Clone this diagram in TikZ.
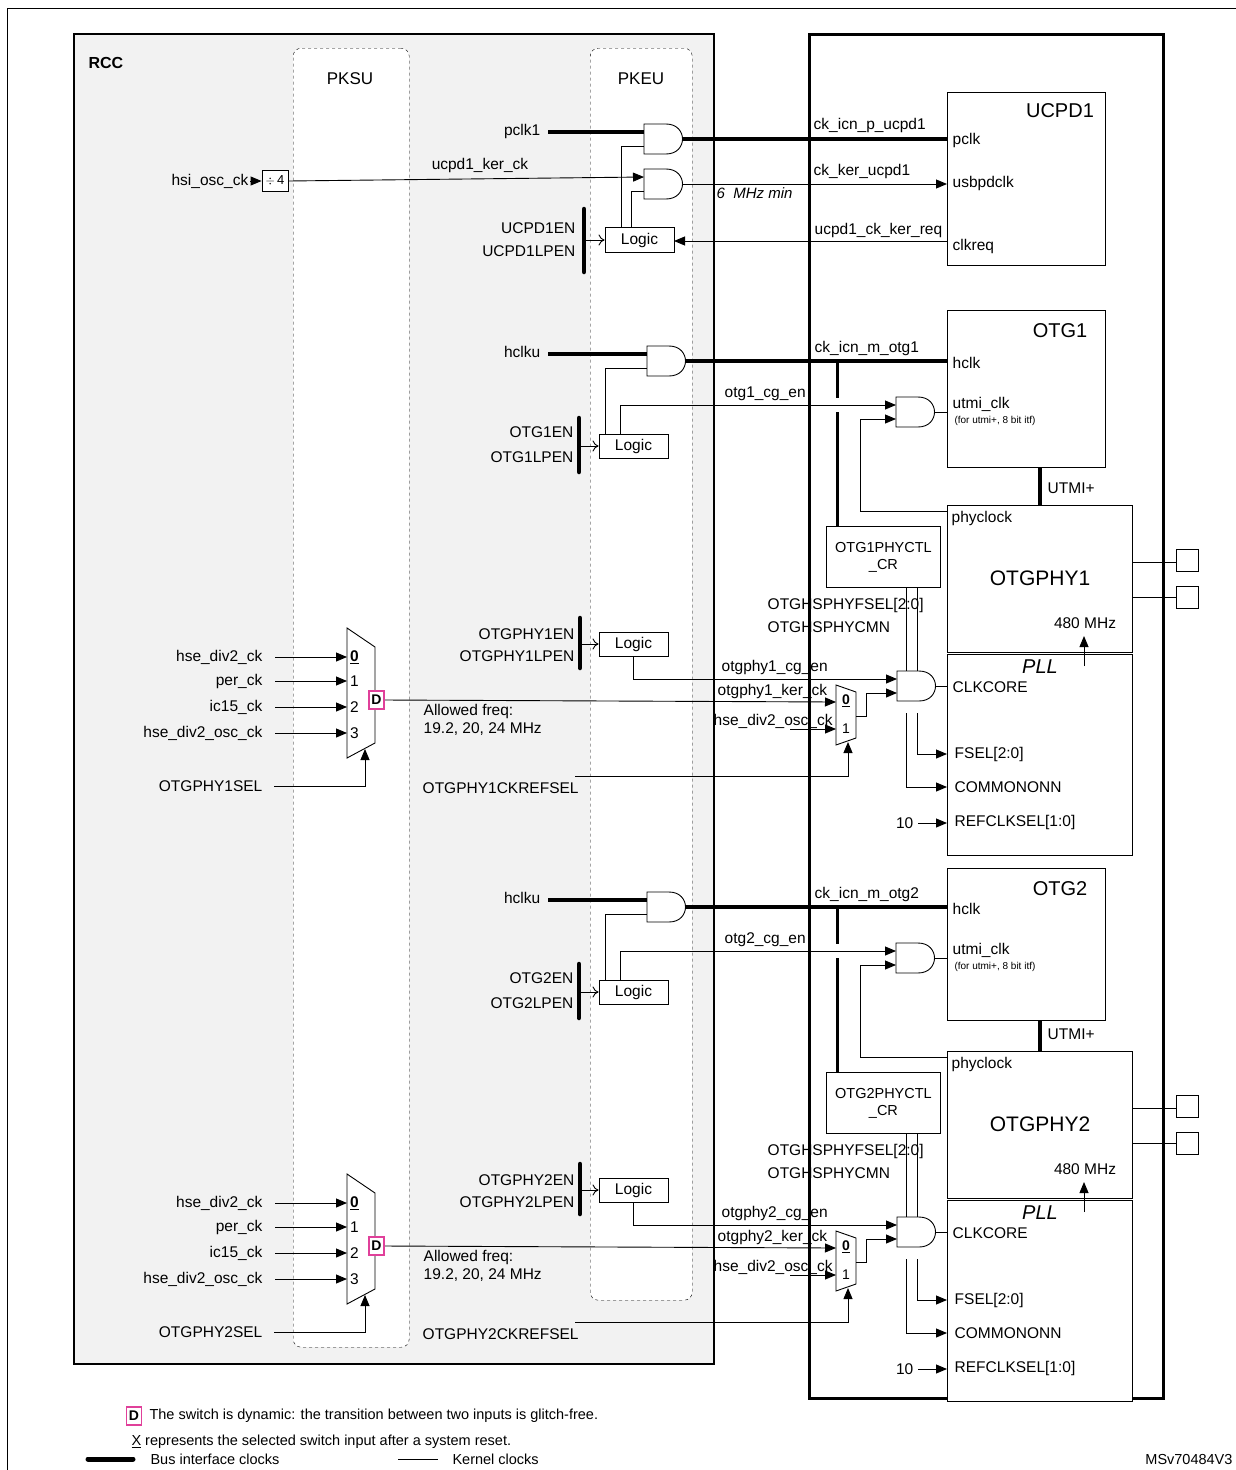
\documentclass[tikz,border=0pt]{standalone}
\usepackage{fontspec}
\setmainfont{Liberation Sans}
\usetikzlibrary{arrows.meta}
\definecolor{rccgray}{HTML}{F2F2F2}
\definecolor{dpink}{HTML}{E0409A}
\newcommand\andg[3]{%
 \draw[k,fill=white] (#1,#2-15) -- (#1+22,#2-15) .. controls (#1+44,#2-15) and (#1+44,#2+15) .. (#1+22,#2+15) -- (#1,#2+15) -- cycle;
 \coordinate (#3i1) at (#1,#2-7); \coordinate (#3i2) at (#1,#2+7); \coordinate (#3o) at (#1+39,#2);}
\newcommand\dbox[3]{\node[draw=dpink,line width=1.2pt,fill=white,minimum width=15pt,minimum height=18pt,inner sep=0,font=\fontsize{14}{14}\selectfont\bfseries] (#3) at (#1,#2) {D};}
\newcommand\otgsec[3]{%
 % bus clock
 \node[lbl,anchor=east] (hc#1) at (542,352) {hclku};
 \andg{647}{361}{gh#1}
 \draw[bus] (548,354) -- (gh#1i1);
 \node[box,anchor=north west,minimum width=158,minimum height=#3] (otg#1) at (947,310+#2) {};
 \node[font=\fontsize{20}{20}\selectfont] at (1060,331+#2) {OTG#1};
 \node[lbl,anchor=west] at (951,363) {hclk};
 \node[lbl,anchor=west] at (951,404) {utmi\_clk};
 \node[font=\fontsize{10}{10}\selectfont,anchor=west] at (951,421) {(for utmi+, 8 bit itf)};
 \draw[bus] (gh#1o) -- (947,361);
 \node[lbl,anchor=south west] at (813,357) {ck\_icn\_m\_otg#1};
 % control register
 \node[box,anchor=north west,minimum width=114,minimum height=61,align=center,font=\fontsize{14.5}{17}\selectfont] (ctl#1) at (826,526) {OTG#1PHYCTL\\\_CR};
 \draw[bus,line width=3pt] (837,361) -- (837,398);
 \draw[bus,line width=3pt] (837,412) -- (837,526);
 % logic
 \node[box,minimum width=69,minimum height=24,lbl] (lg#1) at (633.5,446) {Logic};
 \draw[k] (605,434) |- (gh#1i2);
 \andg{896}{412}{gu#1}
 \draw[k,arr] (620,434) |- (gu#1i1);
 \node[lbl,anchor=south west] at (723,402) {otg#1\_cg\_en};
 \draw[bar] (579,418) -- (579,472);
 \node[lbl,anchor=east] at (575,432) {OTG#1EN};
 \node[lbl,anchor=east] at (575,457) {OTG#1LPEN};
 \draw[k,oarr] (581,446) -- (lg#1.west);
 \draw[k] (gu#1o) -- (947,412);
 % UTMI
 \draw[bus] (otg#1.south -| 1040,0) -- (1040,505);
 \node[lbl,anchor=west] at (1046,488) {UTMI+};
 % PHY
 \node[box,anchor=north west,minimum width=185,minimum height=147] (phy#1) at (947,505) {};
 \node[lbl,anchor=west] at (950,518) {phyclock};
 \node[font=\fontsize{21}{21}\selectfont] at (1040,578) {OTGPHY#1};
 \node[lbl] at (1085,623) {480 MHz};
 \draw[k,arr] (947,511) -- (860,511) -- (860,419) -- (gu#1i2);
 \node[box,anchor=north west,minimum width=185,minimum height=201] (pll#1) at (947,654) {};
 \node[font=\fontsize{20}{20}\itshape] at (1040,667) {PLL};
 \draw[k,arr] (1084,666) -- (1084,636);
 \node[lbl,anchor=west] at (951,687) {CLKCORE};
 \node[lbl,anchor=west] at (953,754) {FSEL[2:0]};
 \node[lbl,anchor=west] at (953,787) {COMMONONN};
 \node[lbl,anchor=west] at (953,822) {REFCLKSEL[1:0]};
 \node[lbl,anchor=east] (ten#1) at (915,823) {10};
 \draw[k,arr] (ten#1.east) ++(3,0) -- (947,823);
 \draw[k] (1132,562) -- (1176,562); \draw[k] (1132,597) -- (1176,597);
 \node[box,anchor=west,minimum width=22,minimum height=22] (pa#1) at (1176,560) {};
 \node[box,anchor=west,minimum width=22,minimum height=22] (pb#1) at (1176,597) {};
 % CLKCORE gate
 \node[lbl,anchor=west] at (766,605) {OTGHSPHYFSEL[2:0]};
 \node[lbl,anchor=west] at (766,627) {OTGHSPHYCMN};
 \andg{897}{686}{gc#1}
 \draw[k] (906,587) -- (906,671); \draw[k] (917,587) -- (917,671);
 \draw[k,arr] (917,713) |- (947,754);
 \draw[k,arr] (906,713) |- (947,787);
 \draw[k] (gc#1o) -- (947,686);
 \node[box,minimum width=69,minimum height=24,lbl] (lp#1) at (633.5,644) {Logic};
 \draw[k,arr] (633,656) |- (gc#1i1);
 \node[lbl,anchor=south west] at (720,676) {otgphy#1\_cg\_en};
 \draw[bar] (580,618) -- (580,668);
 \node[lbl,anchor=east] at (576,634) {OTGPHY#1EN};
 \node[lbl,anchor=east] at (576,656) {OTGPHY#1LPEN};
 \draw[k,oarr] (582,644) -- (lp#1.west);
 % small mux
 \draw[k,fill=white] (836,685) -- (856,692) -- (856,738) -- (836,745) -- cycle;
 \node[font=\fontsize{14}{14}\selectfont\bfseries] at (846,701) {\underline{0}};
 \node[font=\fontsize{14}{14}\selectfont] at (846,729) {1};
 \draw[k] (856,716) -- (866,716) -- (866,693);
 \draw[k,arr] (866,693) -- (gc#1i2);
 \node[lbl,anchor=south west] at (716,700) {otgphy#1\_ker\_ck};
 \draw[k,arr] (790,729) -- (836,729);
 \node[lbl,anchor=south west] at (712,730) {hse\_div2\_osc\_ck};
 \draw[k,arr] (575,776) -| (848,742);
 \node[lbl,anchor=west] at (421,788) {OTGPHY#1CKREFSEL};
 % big mux
 \draw[k,fill=white] (347,628) -- (375,647) -- (375,743) -- (347,758) -- cycle;
 \foreach \yy/\lab/\nm in {657/hse\_div2\_ck/{\textbf{\underline{0}}},681/per\_ck/1,707/ic15\_ck/2,733/hse\_div2\_osc\_ck/3}{
   \node[lbl,anchor=east] at (264,\yy) {\lab};
   \draw[k,arr] (275,\yy) -- (347,\yy);
   \node[lbl,anchor=west,inner sep=1pt] at (349,\yy) {\nm};}
 \draw[k,arr] (384,700) -- (836,702);
 \dbox{376.5}{700}{d#1}
 \node[lbl,anchor=west,align=left] at (422,720) {Allowed freq:\\19.2, 20, 24 MHz};
 \node[lbl,anchor=east] (sel#1) at (264,786) {OTGPHY#1SEL};
 \draw[k,arr] (274,786) -| (365,749);
}
\begin{document}
\begin{tikzpicture}[x=1pt,y=-1pt,
 lbl/.style={font=\fontsize{15.5}{18}\selectfont,inner sep=1.5pt},
 k/.style={line width=0.9pt},
 bus/.style={line width=3.5pt},
 bar/.style={line width=4.5pt,line cap=round},
 box/.style={draw,line width=0.9pt,fill=white,inner sep=0pt},
 arr/.style={-{Triangle[length=11pt,width=9pt]}},
 oarr/.style={-{To[length=6pt,width=11pt]}}]
\useasboundingbox (0,0) rectangle (1235,1470);
\fill[white] (0,0) rectangle (1235,1470);
\draw[line width=1pt] (7,8) rectangle (1260,1500);
% RCC
\node[draw,line width=1.6pt,fill=rccgray,anchor=north west,minimum width=640,minimum height=1330,inner sep=0] (rcc) at (73,33) {};
\node[font=\fontsize{16}{16}\selectfont\bfseries,anchor=west] at (85,63) {RCC};
\node[draw,dashed,rounded corners=8pt,fill=white,anchor=north west,minimum width=116,minimum height=1299,inner sep=0] (pksu) at (293,48) {};
\node[draw,dashed,rounded corners=8pt,fill=white,anchor=north west,minimum width=102,minimum height=1252,inner sep=0] (pkeu) at (590,48) {};
\node[lbl,font=\fontsize{17}{17}\selectfont] at (350,79) {PKSU};
\node[lbl,font=\fontsize{17}{17}\selectfont] at (641,79) {PKEU};
% peripheral frame
\node[draw,line width=3pt,anchor=north west,minimum width=354,minimum height=1364,inner sep=0] (per) at (808,33) {};
% UCPD1
\node[box,anchor=north west,minimum width=158,minimum height=173] (ucpd) at (947,92) {};
\node[font=\fontsize{20}{20}\selectfont] at (1060,111) {UCPD1};
\node[lbl,anchor=west] at (951,140) {pclk};
\node[lbl,anchor=west] at (951,183) {usbpdclk};
\node[lbl,anchor=west] at (951,246) {clkreq};
\node[lbl,anchor=east] (pclk) at (542,131) {pclk1};
\andg{644}{139}{g1}
\andg{644}{184}{g2}
\draw[bus] (548,132) -- (g1i1);
\draw[bus] (g1o) -- (947,139);
\node[lbl,anchor=south west] at (812,134) {ck\_icn\_p\_ucpd1};
\node[lbl,anchor=east] (hsi) at (250,181) {hsi\_osc\_ck};
\node[box,minimum width=26,minimum height=21,font=\fontsize{13}{13}\selectfont] (div) at (275,181) {$\div$\,4};
\draw[k,arr] (hsi.east) -- (div.west);
\draw[k,arr] (div.east) -- (g2i1);
\node[lbl,anchor=south] at (480,174) {ucpd1\_ker\_ck};
\draw[k,arr] (g2o) -- (947,184);
\node[lbl,anchor=south west] at (812,180) {ck\_ker\_ucpd1};
\node[lbl,anchor=north west,font=\fontsize{15}{15}\itshape] at (715,186) {6\ \ MHz min};
\node[box,minimum width=69,minimum height=25,lbl] (lgu) at (639.5,240) {Logic};
\draw[k] (621,227.5) |- (g1i2);
\draw[k] (631,227.5) |- (g2i2);
\draw[k,arr] (947,241) -- (674,241);
\node[lbl,anchor=south west] at (813,239) {ucpd1\_ck\_ker\_req};
\draw[bar] (584,209) -- (584,272);
\node[lbl,anchor=east] at (577,228) {UCPD1EN};
\node[lbl,anchor=east] at (577,251) {UCPD1LPEN};
\draw[k,oarr] (586,240) -- (lgu.west);
% OTG sections
\otgsec{1}{0}{157}
\begin{scope}[yshift=-546pt]\otgsec{2}{12}{152}\end{scope}
% legend
\dbox{134}{1416}{dl}
\node[font=\fontsize{14.5}{16}\selectfont,anchor=west] at (146,1416) {The switch is dynamic: the transition between two inputs is glitch-free.};
\node[font=\fontsize{14.5}{16}\selectfont,anchor=west] at (128,1442) {\underline{X} represents the selected switch input after a system reset.};
\draw[line width=5pt,line cap=round] (88,1459) -- (133,1459);
\node[font=\fontsize{14.5}{16}\selectfont,anchor=west] at (147,1459) {Bus interface clocks};
\draw[k] (398,1459) -- (438,1459);
\node[font=\fontsize{14.5}{16}\selectfont,anchor=west] at (449,1459) {Kernel clocks};
\node[font=\fontsize{14.5}{16}\selectfont,anchor=east] at (1236,1459) {MSv70484V3};
\end{tikzpicture}
\end{document}
